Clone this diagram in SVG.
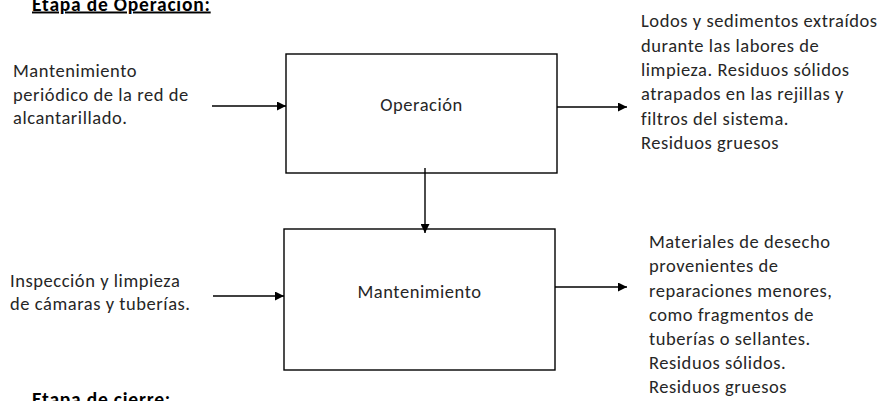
<svg xmlns="http://www.w3.org/2000/svg" width="883" height="401" viewBox="0 0 883 401">
<style>
text { font-family: Carlito, Calibri, Lato, "Liberation Sans", sans-serif; font-size: 18.5px; letter-spacing: 0.55px; fill: #262626; }
.title { font-size: 19.5px; letter-spacing: 0.8px; font-weight: bold; text-decoration: underline; fill: #000; }
.box { fill: #fff; stroke: #000; stroke-width: 1.4; }
.conn { stroke: #000; stroke-width: 1.4; fill: none; marker-end: url(#arr); }
</style>
<defs>
<marker id="arr" viewBox="0 0 10 10" refX="10" refY="5" markerWidth="9" markerHeight="9" markerUnits="userSpaceOnUse" orient="auto">
<path d="M0,0 L10,5 L0,10 z" fill="#000"/>
</marker>
</defs>
<rect width="883" height="401" fill="#fff"/>
<text class="title" x="32" y="10.5">Etapa de Operación:</text>
<text class="title" x="32" y="406">Etapa de cierre:</text>
<g id="in1">
<text x="13" y="77">Mantenimiento</text>
<text x="13" y="100.5">periódico de la red de</text>
<text x="13" y="124">alcantarillado.</text>
</g>
<g id="in2">
<text x="10" y="287">Inspección y limpieza</text>
<text x="10" y="310">de cámaras y tuberías.</text>
</g>
<g id="operacion">
<rect class="box" x="286" y="54" width="271" height="119"/>
<text x="421.5" y="111" text-anchor="middle">Operación</text>
</g>
<g id="mantenimiento">
<rect class="box" x="284" y="229" width="271" height="141"/>
<text x="419.5" y="298" text-anchor="middle">Mantenimiento</text>
</g>
<g id="out1">
<text x="641" y="27">Lodos y sedimentos extraídos</text>
<text x="641" y="51.5">durante las labores de</text>
<text x="641" y="76">limpieza. Residuos sólidos</text>
<text x="641" y="100">atrapados en las rejillas y</text>
<text x="641" y="124.5">filtros del sistema.</text>
<text x="641" y="149">Residuos gruesos</text>
</g>
<g id="out2">
<text x="649" y="248">Materiales de desecho</text>
<text x="649" y="272">provenientes de</text>
<text x="649" y="296.5">reparaciones menores,</text>
<text x="649" y="320.5">como fragmentos de</text>
<text x="649" y="345">tuberías o sellantes.</text>
<text x="649" y="369">Residuos sólidos.</text>
<text x="649" y="393">Residuos gruesos</text>
</g>
<g id="connectors">
<line class="conn" x1="212" y1="106" x2="286" y2="106"/>
<line class="conn" x1="213" y1="296" x2="284" y2="296"/>
<line class="conn" x1="557" y1="107" x2="627" y2="107"/>
<line class="conn" x1="555" y1="287" x2="627" y2="287"/>
<line class="conn" x1="425" y1="168" x2="425" y2="233"/>
</g>
</svg>
